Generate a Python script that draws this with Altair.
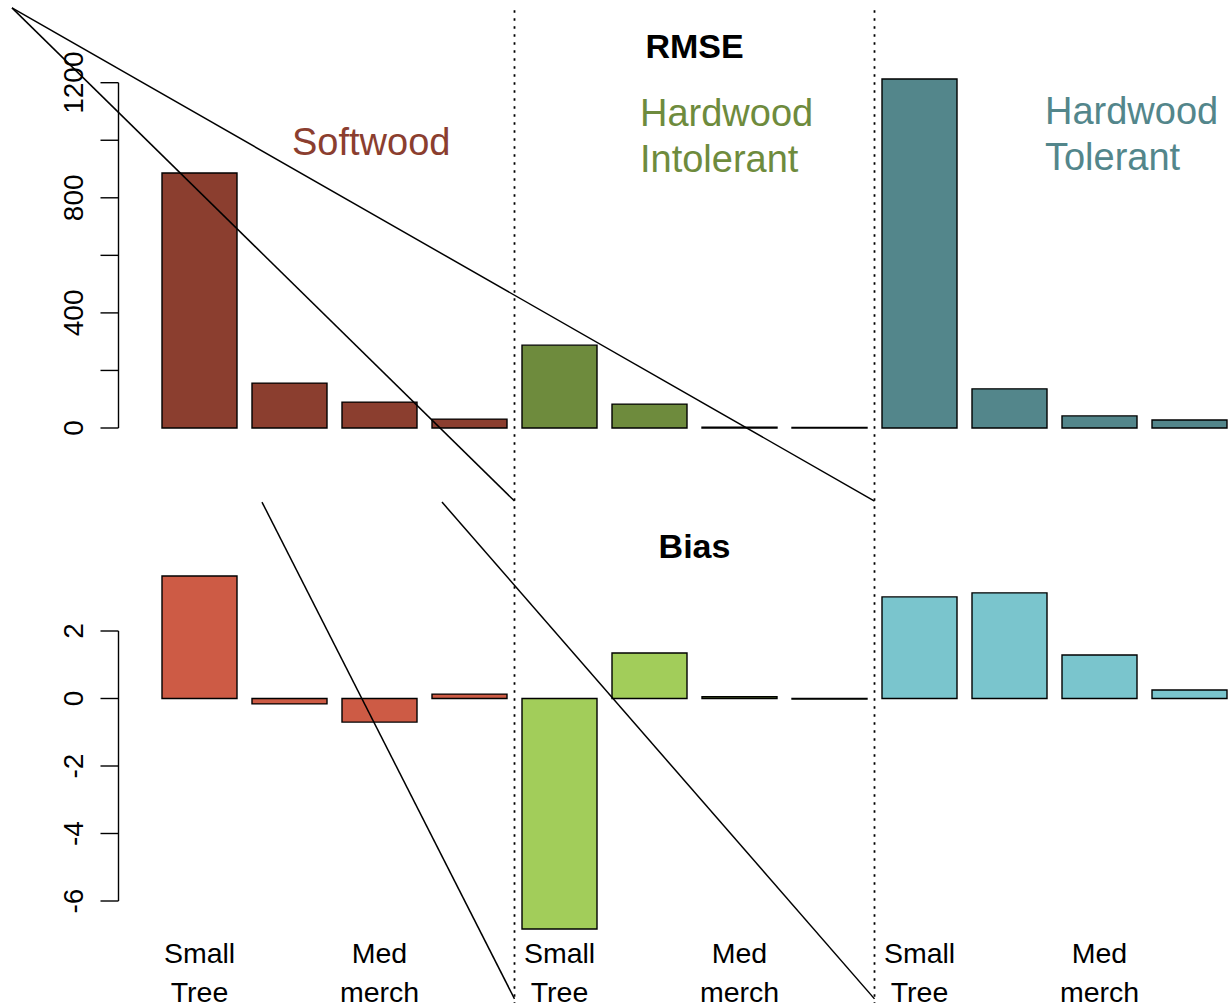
import altair as alt
import pandas as pd

# ---- data -------------------------------------------------------------
GROUPS = ["Softwood", "Hardwood Intolerant", "Hardwood Tolerant"]
bar_group = ["Softwood"] * 4 + ["Hardwood Intolerant"] * 4 + ["Hardwood Tolerant"] * 4
size_class = [1, 2, 3, 4] * 3
rmse = [886, 156, 90, 31, 288, 83, 3, 1.5, 1213, 136, 42, 28]
bias = [3.63, -0.16, -0.70, 0.13, -6.83, 1.35, 0.05, -0.02, 3.01, 3.13, 1.29, 0.25]

# size-class names printed under every group (only alternate bars are labelled)
class_label_bars = [0, 2, 4, 6, 8, 10]
class_labels = ["Small\nTree", "Med\nmerch"] * 3

rmse_ticks = [0, 200, 400, 600, 800, 1000, 1200]
rmse_tick_labels = [0, 400, 800, 1200]
bias_ticks = [2, 0, -2, -4, -6]

# ---- styling ----------------------------------------------------------
RMSE_FILL = {"Softwood": "#8B3E2F", "Hardwood Intolerant": "#6E8B3D", "Hardwood Tolerant": "#53868B"}
BIAS_FILL = {"Softwood": "#CD5B45", "Hardwood Intolerant": "#A2CD5A", "Hardwood Tolerant": "#7AC5CD"}
FONT = "Liberation Sans"

# barplot geometry: width 1, space 0.2
left = [0.2 + 1.2 * i for i in range(len(rmse))]
right = [l + 1.0 for l in left]
centers = [l + 0.5 for l in left]

# shared user coordinates of the two panels
X_DOMAIN = [-1.96, 14.4133]
TOP_DOMAIN = [-2008.7, 1487.4]
BOT_DOMAIN = [-9.111, 20.696]
AXIS_X = -0.38
TICK_LEN = 0.24
TICK_LABEL_X = -0.853
SEPARATORS = [4.9, 9.7]


def xsc():
    return alt.Scale(domain=X_DOMAIN, nice=False, zero=False)


def ysc(dom):
    return alt.Scale(domain=dom, nice=False, zero=False)


bars = pd.DataFrame({
    "group": bar_group,
    "cls": size_class,
    "rmse": rmse,
    "bias": bias,
    "left": left,
    "right": right,
    "base": 0.0,
})
bars["rmse_fill"] = [RMSE_FILL[g] for g in bar_group]
bars["bias_fill"] = [BIAS_FILL[g] for g in bar_group]


def bar_layer(field, fill, dom):
    return alt.Chart(bars).mark_rect(stroke="black", strokeWidth=1.4).encode(
        x=alt.X("left:Q", scale=xsc(), axis=None),
        x2="right",
        y=alt.Y(f"{field}:Q", scale=ysc(dom), axis=None),
        y2="base",
        color=alt.Color(f"{fill}:N", scale=None),
    )


def axis_layers(ticks, labels, dom):
    tdf = pd.DataFrame({"v": ticks, "x": AXIS_X, "x2": AXIS_X - TICK_LEN})
    ldf = pd.DataFrame({"v": labels, "t": [str(v) for v in labels], "x": TICK_LABEL_X})
    line = alt.Chart(pd.DataFrame({"x": [AXIS_X], "lo": [min(ticks)], "hi": [max(ticks)]})).mark_rule(
        color="black", strokeWidth=1.4
    ).encode(
        x=alt.X("x:Q", scale=xsc(), axis=None),
        y=alt.Y("lo:Q", scale=ysc(dom), axis=None),
        y2="hi",
    )
    tick = alt.Chart(tdf).mark_rule(color="black", strokeWidth=1.4).encode(
        x=alt.X("x:Q", scale=xsc(), axis=None),
        x2="x2",
        y=alt.Y("v:Q", scale=ysc(dom), axis=None),
    )
    text = alt.Chart(ldf).mark_text(
        angle=270, align="center", baseline="alphabetic", font=FONT, fontSize=28, color="black"
    ).encode(
        x=alt.X("x:Q", scale=xsc(), axis=None),
        y=alt.Y("v:Q", scale=ysc(dom), axis=None),
        text="t:N",
    )
    return [line, tick, text]


def text_layer(df, dom, **mark):
    return alt.Chart(df).mark_text(font=FONT, baseline="alphabetic", **mark).encode(
        x=alt.X("x:Q", scale=xsc(), axis=None),
        y=alt.Y("y:Q", scale=ysc(dom), axis=None),
        text="t:N",
    )


def segment_layer(df, dom, **mark):
    return alt.Chart(df).mark_rule(**mark).encode(
        x=alt.X("x:Q", scale=xsc(), axis=None),
        x2="x2",
        y=alt.Y("y:Q", scale=ysc(dom), axis=None),
        y2="y2",
    )


# panel titles
rmse_title = text_layer(pd.DataFrame({"x": [7.3], "y": [1286], "t": ["RMSE"]}), TOP_DOMAIN,
                        fontSize=34, fontWeight="bold", align="center", color="black")
bias_title = text_layer(pd.DataFrame({"x": [7.3], "y": [4.16], "t": ["Bias"]}), BOT_DOMAIN,
                        fontSize=34, fontWeight="bold", align="center", color="black")

# group names
group_text = [
    text_layer(pd.DataFrame({"x": [1.933], "y": [948], "t": ["Softwood"]}), TOP_DOMAIN,
               fontSize=38, align="left", color=RMSE_FILL["Softwood"]),
    text_layer(pd.DataFrame({"x": [6.573], "y": [1050], "t": ["Hardwood\nIntolerant"]}), TOP_DOMAIN,
               fontSize=38, align="left", lineBreak="\n", lineHeight=46,
               color=RMSE_FILL["Hardwood Intolerant"]),
    text_layer(pd.DataFrame({"x": [11.973], "y": [1058], "t": ["Hardwood\nTolerant"]}), TOP_DOMAIN,
               fontSize=38, align="left", lineBreak="\n", lineHeight=46,
               color=RMSE_FILL["Hardwood Tolerant"]),
]

# size-class names below the bias panel
cls_df = pd.DataFrame({"x": [centers[i] for i in class_label_bars], "y": -7.84, "t": class_labels})
cls_text = text_layer(cls_df, BOT_DOMAIN, fontSize=28.5, align="center", lineBreak="\n",
                      lineHeight=38.5, color="black")

# dotted separators between the groups, running through both panels
sep_df = pd.DataFrame({"x": SEPARATORS, "x2": SEPARATORS, "y": 1452.0, "y2": -1998.0})
separators = segment_layer(sep_df, TOP_DOMAIN, color="black", strokeWidth=1.8, strokeDash=[2.5, 5.5])

# guide lines
top_diag = pd.DataFrame({"x": [-1.8, -1.8], "y": [1460, 1460], "x2": [4.9, 9.7], "y2": [-254, -254]})
bot_diag = pd.DataFrame({"x": [1.533, 3.933], "y": [5.82, 5.82], "x2": [4.9, 9.7], "y2": [-8.9, -8.9]})
top_lines = segment_layer(top_diag, TOP_DOMAIN, color="black", strokeWidth=1.5)
bot_lines = segment_layer(bot_diag, BOT_DOMAIN, color="black", strokeWidth=1.5)

layers = (
    [bar_layer("rmse", "rmse_fill", TOP_DOMAIN), bar_layer("bias", "bias_fill", BOT_DOMAIN)]
    + axis_layers(rmse_ticks, rmse_tick_labels, TOP_DOMAIN)
    + axis_layers(bias_ticks, bias_ticks, BOT_DOMAIN)
    + [rmse_title, bias_title] + group_text + [cls_text, separators, top_lines, bot_lines]
)

chart = alt.layer(*layers).resolve_scale(y="independent").properties(
    width=1228,
    height=1006,
    autosize=alt.AutoSizeParams(type="none"),
    padding=0,
    background="white",
).configure_view(stroke=None)

chart.save("out.html", embed_options={"renderer": "svg", "actions": False})
